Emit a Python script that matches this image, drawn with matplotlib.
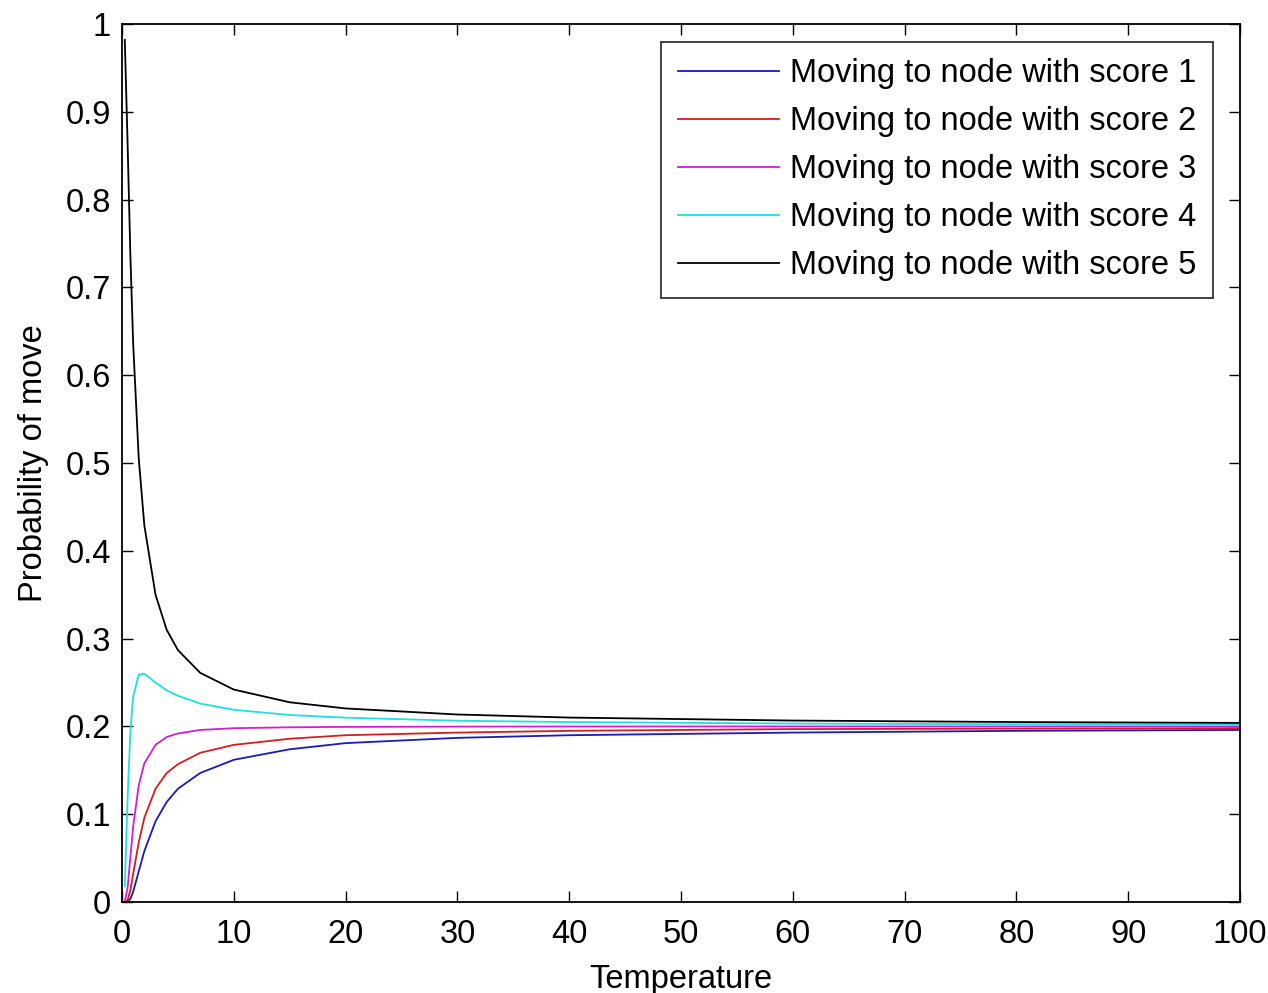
import matplotlib
matplotlib.use("Agg")
import matplotlib.pyplot as plt

# values (temperature vs probability)
temperature = [0.25, 0.5, 0.75, 1, 1.5, 2, 3, 4, 5, 7, 10, 15, 20, 30, 40, 60, 80, 100]
score1 = [0.0, 0.0003, 0.0036, 0.0117, 0.035, 0.058, 0.092, 0.114, 0.129, 0.147, 0.162, 0.174, 0.181, 0.187, 0.190, 0.193, 0.195, 0.196]
score2 = [0.0, 0.0021, 0.0135, 0.032, 0.068, 0.096, 0.129, 0.147, 0.157, 0.170, 0.179, 0.186, 0.190, 0.193, 0.195, 0.197, 0.1975, 0.198]
score3 = [0.0003, 0.016, 0.051, 0.086, 0.133, 0.158, 0.179, 0.188, 0.192, 0.196, 0.198, 0.199, 0.1995, 0.1998, 0.1999, 0.200, 0.200, 0.200]
score4 = [0.018, 0.117, 0.194, 0.234, 0.259, 0.260, 0.250, 0.241, 0.235, 0.226, 0.219, 0.213, 0.210, 0.2065, 0.205, 0.2033, 0.2025, 0.202]
score5 = [0.982, 0.865, 0.737, 0.636, 0.505, 0.429, 0.350, 0.310, 0.287, 0.261, 0.242, 0.2275, 0.2205, 0.2136, 0.2101, 0.2067, 0.205, 0.204]
labels = ["Moving to node with score %d" % i for i in range(1, 6)]
colors = ["#1a1ab8", "#d21e1e", "#d21ed2", "#1ee0e0", "black"]

plt.rcParams["font.family"] = ["Liberation Sans", "DejaVu Sans"]

fig = plt.figure(figsize=(12.68, 9.93), dpi=100)
ax = fig.add_axes([0.0962, 0.0916, 0.8818, 0.8842])

for ys, lab, col in zip([score1, score2, score3, score4, score5], labels, colors):
    ax.plot(temperature, ys, color=col, lw=1.3, label=lab)

ax.set_xlim(0, 100)
ax.set_ylim(0, 1)
ax.set_xticks(range(0, 101, 10))
ax.set_yticks([i / 10 for i in range(11)])
ax.set_yticklabels(["0", "0.1", "0.2", "0.3", "0.4", "0.5", "0.6", "0.7", "0.8", "0.9", "1"])
ax.tick_params(direction="in", top=True, right=True, length=8, width=1, labelsize=23.5)
ax.tick_params(axis="x", pad=12)
ax.tick_params(axis="y", pad=8)
for s in ax.spines.values():
    s.set_linewidth(1.3)

ax.set_xlabel("Temperature", fontsize=23.5, labelpad=10)
ax.set_ylabel("Probability of move", fontsize=23.5, labelpad=12)

leg = ax.legend(loc="upper right", bbox_to_anchor=(0.9758, 0.9795), borderaxespad=0,
                fontsize=23.5, frameon=True, fancybox=False, edgecolor="black",
                handlelength=3.1, labelspacing=0.52, borderpad=0.5, handletextpad=0.35)
leg.get_frame().set_linewidth(1.3)

fig.savefig("out.png", dpi=100)
